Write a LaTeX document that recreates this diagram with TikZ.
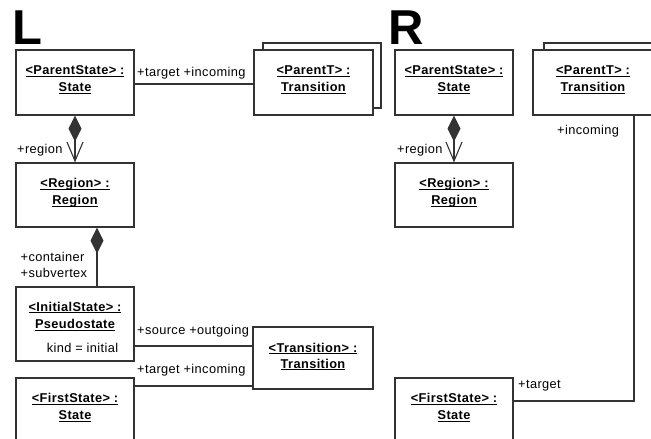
\documentclass[tikz,border=0pt]{standalone}
\usepackage{fontspec}
\setmainfont{Liberation Sans}
\newfontfamily\umlfont{Liberation Sans}[LetterSpace=3]
\usetikzlibrary{arrows.meta}

\definecolor{linec}{HTML}{333333}

% underline with a fixed offset and weight
\newcommand\umlul[1]{\setbox0\hbox{#1}\rlap{\rule[-2.2pt]{\wd0}{1.1pt}}\box0}

\tikzset{
  obj/.style={draw=linec, line width=1.1pt, fill=white, inner sep=0pt,
              minimum width=118pt, minimum height=65pt},
  ttl/.style={font=\umlfont\bfseries\fontsize{12.8}{15}\selectfont, anchor=base, inner sep=0pt},
  role/.style={font=\umlfont\fontsize{12.8}{15}\selectfont, anchor=base west, inner sep=0pt},
  attr/.style={font=\umlfont\fontsize{12.8}{15}\selectfont, anchor=base, inner sep=0pt},
  big/.style={font=\bfseries\fontsize{49}{49}\selectfont, anchor=base west, inner sep=0pt},
  conn/.style={draw=linec, line width=1.1pt},
  comp/.style={conn, {Diamond[length=26pt,width=13pt]}-{Straight Barb[length=19pt,width=16pt]}},
  compend/.style={conn, {Diamond[length=26pt,width=13pt]}-},
}

\begin{document}
\begin{tikzpicture}[x=1pt, y=-1pt]
\useasboundingbox (0,0) rectangle (651,439);
\clip (0,0) rectangle (651,439);
\fill[white] (0,0) rectangle (651,439);

% ---------------- left side ----------------
\node[big] (labL) at (12,45) {L};

\node[obj] (psL) at (75,82.5) {};
\node[ttl] (psLa) at (75,74.5) {\umlul{<ParentState> :}};
\node[ttl] (psLb) at (75,91.5) {\umlul{State}};

\node[obj] (ptLback) at (322,75.5) {};
\node[obj, minimum width=119pt] (ptL) at (313.5,82.5) {};
\node[ttl] (ptLa) at (313.5,74.5) {\umlul{<ParentT> :}};
\node[ttl] (ptLb) at (313.5,91.5) {\umlul{Transition}};

\draw[conn] ([yshift=-1.5pt]psL.east) -- ([yshift=-1.5pt]psL.east -| ptL.west);
\node[role] (rl1) at (137,76) {+target +incoming};

\node[obj, minimum height=64pt] (rgL) at (75,195) {};
\node[ttl] (rgLa) at (75,187.5) {\umlul{<Region> :}};
\node[ttl] (rgLb) at (75,204.5) {\umlul{Region}};
\draw[comp] (psL.south) -- (rgL.north);
\node[role] (rl2) at (17,153) {+region};

\node[obj, minimum height=74pt] (isL) at (75,324) {};
\node[ttl] (isLa) at (75,311) {\umlul{<InitialState> :}};
\node[ttl] (isLb) at (75,328.5) {\umlul{Pseudostate}};
\node[attr] (isLc) at (82.5,352) {kind = initial};
\draw[compend] ([xshift=22pt]rgL.south) -- ([xshift=22pt]isL.north);
\node[role] (rl3) at (20.5,261) {+container};
\node[role] (rl4) at (20.5,277) {+subvertex};

\node[obj, minimum width=120pt, minimum height=62pt] (trL) at (313,358) {};
\node[ttl] (trLa) at (313,352) {\umlul{<Transition> :}};
\node[ttl] (trLb) at (313,368) {\umlul{Transition}};

\draw[conn] ([yshift=-22pt]isL.east) -- ([yshift=-22pt]isL.east -| trL.west);
\node[role] (rl5) at (137,334) {+source +outgoing};

\node[obj] (fsL) at (75,410.5) {};
\node[ttl] (fsLa) at (75,402.5) {\umlul{<FirstState> :}};
\node[ttl] (fsLb) at (75,419.5) {\umlul{State}};
\draw[conn] ([yshift=24.5pt]fsL.east) -- ([yshift=24.5pt]fsL.east -| trL.west);
\node[role] (rl6) at (137,373) {+target +incoming};

% ---------------- right side ----------------
\node[big] (labR) at (388.5,45) {R};

\node[obj] (psR) at (454,82.5) {};
\node[ttl] (psRa) at (454,74.5) {\umlul{<ParentState> :}};
\node[ttl] (psRb) at (454,91.5) {\umlul{State}};

\node[obj] (ptRback) at (603,75.5) {};
\node[obj, minimum width=120pt] (ptR) at (593,82.5) {};
\node[ttl] (ptRa) at (593,74.5) {\umlul{<ParentT> :}};
\node[ttl] (ptRb) at (593,91.5) {\umlul{Transition}};

\node[obj, minimum height=64pt] (rgR) at (454,195) {};
\node[ttl] (rgRa) at (454,187.5) {\umlul{<Region> :}};
\node[ttl] (rgRb) at (454,204.5) {\umlul{Region}};
\draw[comp] (psR.south) -- (rgR.north);
\node[role] (rr1) at (397,153) {+region};

\node[obj] (fsR) at (454,410.5) {};
\node[ttl] (fsRa) at (454,402.5) {\umlul{<FirstState> :}};
\node[ttl] (fsRb) at (454,419.5) {\umlul{State}};

\draw[conn] ([xshift=41pt]ptR.south) |- ([yshift=9.5pt]fsR.east);
\node[role] (rr2) at (557,134) {+incoming};
\node[role] (rr3) at (518,388) {+target};
\end{tikzpicture}
\end{document}
